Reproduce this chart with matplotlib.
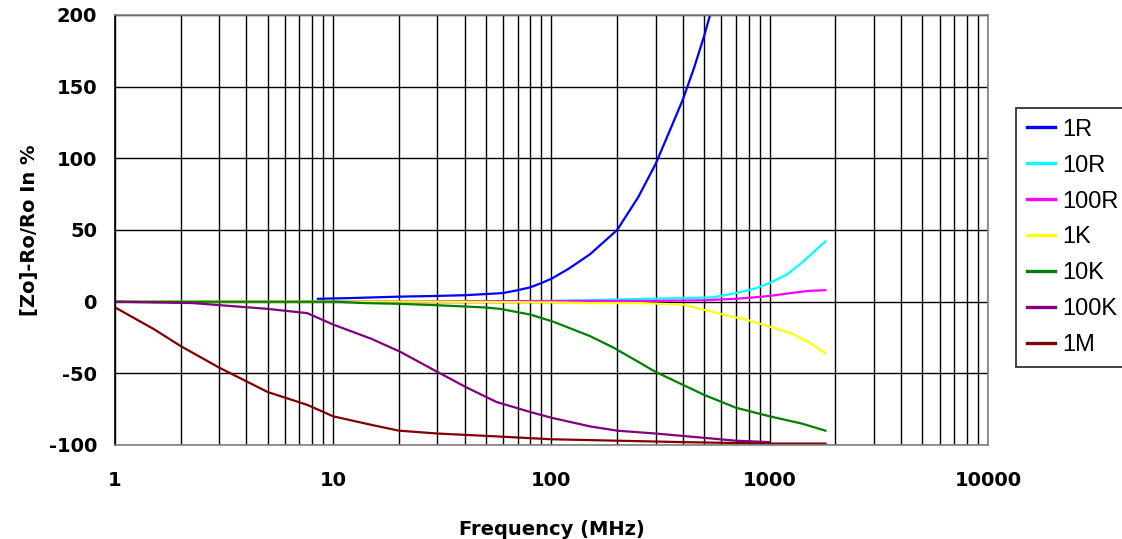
import matplotlib
matplotlib.use("Agg")
import matplotlib.pyplot as plt
from matplotlib.ticker import FixedLocator, NullFormatter

plt.rcParams['font.family'] = ['DejaVu Sans']
plt.rcParams['axes.unicode_minus'] = False

# frequency (MHz) / deviation (%), one pair per resistor value
f_1r = [8.5, 12, 20, 30, 40, 50, 60, 70, 80, 90, 100, 120, 150, 200, 250, 300, 350, 400, 450, 500, 540]
v_1r = [2, 2.5, 3.5, 4, 4.5, 5.3, 6, 8, 10, 13, 16, 23, 33, 50, 73, 96, 120, 141, 163, 185, 203]

f_10r = [10, 100, 277, 400, 550, 700, 850, 1000, 1200, 1400, 1600, 1800]
v_10r = [0, 0.5, 2, 2.5, 3, 6, 9, 13, 19, 27, 35, 42]

f_100r = [10, 140, 300, 500, 700, 850, 1000, 1250, 1500, 1800]
v_100r = [0, 0.5, 0.5, 1, 2, 3, 4, 6, 7.5, 8]

f_1k = [1, 26, 100, 150, 254, 400, 577, 800, 980, 1250, 1500, 1800]
v_1k = [0, 0, -0.5, -1, -1, -2, -8, -13, -17, -22, -28, -36]

f_10k = [1, 10, 14, 20, 30, 49, 58, 80, 102, 150, 192, 250, 300, 400, 500, 700, 1000, 1400, 1800]
v_10k = [0, 0, -1, -1.5, -2.5, -4, -5, -9, -14, -24, -32, -42, -49, -58, -65, -74, -80, -85, -90]

f_100k = [1, 2.28, 4.97, 7.6, 10, 15, 20.3, 30, 41, 56, 80, 100, 150, 200, 300, 500, 700, 1000]
v_100k = [0, -1, -5, -8, -16, -26, -35, -49, -60, -70, -77, -81, -87, -90, -92, -95, -97, -98]

f_1m = [1, 1.5, 2, 3, 5, 7.6, 10, 15, 20, 30, 56, 100, 200, 400, 1000, 1800]
v_1m = [-4, -19, -31, -46, -63, -72, -80, -86, -90, -92, -94, -96, -97, -98, -99, -99]

series = [
    ('1R', f_1r, v_1r, '#0000FF'),
    ('10R', f_10r, v_10r, '#00FFFF'),
    ('100R', f_100r, v_100r, '#FF00FF'),
    ('1K', f_1k, v_1k, '#FFFF00'),
    ('10K', f_10k, v_10k, '#008000'),
    ('100K', f_100k, v_100k, '#800080'),
    ('1M', f_1m, v_1m, '#800000'),
]

x_ticks = [1, 10, 100, 1000, 10000]
y_ticks = [-100, -50, 0, 50, 100, 150, 200]

fig = plt.figure(figsize=(11.22, 5.39), dpi=100)
ax = fig.add_axes([0.1025, 0.1744, 0.778, 0.7978])

for name, f, v, col in series:
    ax.plot(f, v, color=col, lw=1.6, label=name, zorder=3)

ax.set_xscale('log')
ax.set_xlim(1, 10000)
ax.set_ylim(-100, 200)
ax.xaxis.set_major_locator(FixedLocator(x_ticks))
ax.xaxis.set_minor_locator(FixedLocator([m * d for d in [1, 10, 100, 1000] for m in range(2, 10)]))
ax.xaxis.set_minor_formatter(NullFormatter())
ax.set_xticklabels([str(t) for t in x_ticks])
ax.set_yticks(y_ticks)

ax.grid(True, which='both', axis='x', color='black', lw=1)
ax.grid(True, which='major', axis='y', color='black', lw=1)
ax.tick_params(which='both', length=0)
ax.tick_params(axis='y', pad=13, labelsize=14)
ax.tick_params(axis='x', pad=19, labelsize=14)
for lab in ax.get_xticklabels() + ax.get_yticklabels():
    lab.set_fontweight('bold')

for side in ['top', 'right', 'bottom']:
    ax.spines[side].set_color('#808080')
ax.spines['left'].set_color('black')
for s in ax.spines.values():
    s.set_linewidth(1.2)
    s.set_zorder(4)

ax.set_xlabel('Frequency (MHz)', fontsize=14, fontweight='bold', labelpad=21)
ax.set_ylabel('[Zo]-Ro/Ro In %', fontsize=14, fontweight='bold', labelpad=7)

leg = fig.legend(loc='upper left', bbox_to_anchor=(0.9055, 0.7996),
                 prop={'family': 'Liberation Sans', 'size': 17},
                 frameon=True, fancybox=False, edgecolor='black', handlelength=1.2,
                 handletextpad=0.3, labelspacing=0.59, borderpad=0.45, borderaxespad=0)
leg.get_frame().set_linewidth(1.3)
for ln in leg.get_lines():
    ln.set_linewidth(2.4)

fig.savefig('out.png', dpi=100)
